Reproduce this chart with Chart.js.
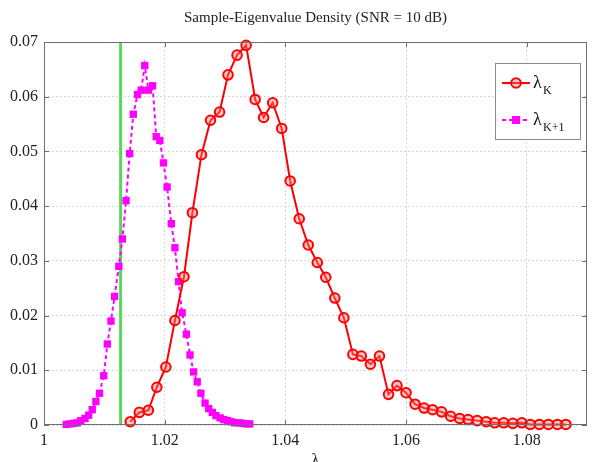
<!DOCTYPE html>
<html>
<head>
<meta charset="utf-8">
<script src="https://cdn.jsdelivr.net/npm/chart.js@4.4.0/dist/chart.umd.min.js"></script>
<style>
html,body{margin:0;padding:0;background:#fff;}
</style>
</head>
<body>
<canvas id="showchart" width="595" height="462"></canvas>
<script>
// lambda_K histogram (red, circles)
var redX = [1.0143,1.0158,1.0173,1.0187,1.0202,1.0217,1.0232,1.0246,1.0261,1.0276,
	1.0291,1.0305,1.0320,1.0335,1.0350,1.0364,1.0379,1.0394,1.0408,1.0423,
	1.0438,1.0453,1.0467,1.0482,1.0497,1.0512,1.0526,1.0541,1.0556,1.0571,
	1.0585,1.0600,1.0615,1.0630,1.0644,1.0659,1.0674,1.0689,1.0703,1.0718,
	1.0733,1.0747,1.0762,1.0777,1.0792,1.0806,1.0821,1.0836,1.0851,1.0865];
var redY = [0.0006,0.0023,0.0027,0.0069,0.0106,0.0191,0.0271,0.0388,0.0494,0.0557,
	0.0572,0.0640,0.0676,0.0694,0.0595,0.0562,0.0589,0.0542,0.0446,0.0377,
	0.0329,0.0297,0.0270,0.0232,0.0196,0.0129,0.0126,0.0111,0.0126,0.0056,
	0.0072,0.0059,0.0038,0.0031,0.0028,0.0024,0.0016,0.0012,0.0010,0.0008,
	0.0006,0.0004,0.0004,0.0003,0.0004,0.0001,0.0001,0.0001,0.0001,0.0001];

// lambda_K+1 histogram (magenta, squares)
var magX = [1.0037,1.0043,1.0049,1.0055,1.0061,1.0068,1.0074,1.0080,1.0086,1.0092,
	1.0099,1.0105,1.0111,1.0117,1.0124,1.0130,1.0136,1.0142,1.0148,1.0155,
	1.0161,1.0167,1.0173,1.0180,1.0186,1.0192,1.0198,1.0204,1.0211,1.0217,
	1.0223,1.0229,1.0236,1.0242,1.0248,1.0254,1.0260,1.0267,1.0273,1.0279,
	1.0285,1.0292,1.0298,1.0304,1.0310,1.0316,1.0323,1.0329,1.0335,1.0341];
var magY = [0.0001,0.0002,0.0003,0.0004,0.0008,0.0012,0.0018,0.0028,0.0043,0.0058,
	0.0090,0.0148,0.0190,0.0235,0.0290,0.0340,0.0410,0.0496,0.0568,0.0604,
	0.0612,0.0657,0.0612,0.0620,0.0527,0.0520,0.0479,0.0435,0.0368,0.0324,
	0.0262,0.0205,0.0166,0.0128,0.0097,0.0079,0.0058,0.0040,0.0030,0.0023,
	0.0017,0.0013,0.0010,0.0008,0.0006,0.0004,0.0004,0.0003,0.0002,0.0002];

var thresholdX = 1.0127;
var xTicks = [1, 1.02, 1.04, 1.06, 1.08];
var yTicks = [0, 0.01, 0.02, 0.03, 0.04, 0.05, 0.06, 0.07];
var titleText = "Sample-Eigenvalue Density (SNR = 10 dB)";

function toPoints(xs, ys){
	var pts = [];
	for (var i in xs) pts.push({x: xs[i], y: ys[i]});
	return pts;
}

var serif = "'Liberation Serif','Times New Roman',serif";

// box, inward ticks and the legend (subscripts)
var matlabLook = {
	id: 'matlabLook',
	afterDraw: function(chart){
		var ctx = chart.ctx, a = chart.chartArea;
		var xs = chart.scales.x, ys = chart.scales.y;
		ctx.save();
		ctx.strokeStyle = '#6e6e6e';
		ctx.lineWidth = 1;
		ctx.strokeRect(a.left + 0.5, a.top + 0.5, a.right - a.left - 1, a.bottom - a.top - 1);
		ctx.beginPath();
		xTicks.forEach(function(v){
			var px = Math.round(xs.getPixelForValue(v)) + 0.5;
			ctx.moveTo(px, a.bottom); ctx.lineTo(px, a.bottom - 5);
			ctx.moveTo(px, a.top); ctx.lineTo(px, a.top + 5);
		});
		yTicks.forEach(function(v){
			var py = Math.round(ys.getPixelForValue(v)) + 0.5;
			ctx.moveTo(a.left, py); ctx.lineTo(a.left + 5, py);
			ctx.moveTo(a.right, py); ctx.lineTo(a.right - 5, py);
		});
		ctx.stroke();

		// legend
		var lx = 495, ly = 63, lw = 85, lh = 76;
		ctx.fillStyle = '#fff';
		ctx.fillRect(lx, ly, lw, lh);
		ctx.strokeStyle = '#8a8a8a';
		ctx.strokeRect(lx + 0.5, ly + 0.5, lw, lh);
		var rows = [
			{y: 83, color: '#ff0000', dash: [], style: 'circle', sub: 'K'},
			{y: 120, color: '#ff00ff', dash: [4, 3], style: 'rect', sub: 'K+1'}
		];
		rows.forEach(function(r){
			ctx.strokeStyle = r.color;
			ctx.lineWidth = 2;
			ctx.setLineDash(r.dash);
			ctx.beginPath();
			ctx.moveTo(502, r.y); ctx.lineTo(530, r.y);
			ctx.stroke();
			ctx.setLineDash([]);
			if (r.style === 'circle') {
				ctx.fillStyle = 'rgba(255,120,120,0.4)';
				ctx.beginPath();
				ctx.arc(516, r.y, 4.8, 0, Math.PI * 2);
				ctx.fill(); ctx.stroke();
			} else {
				ctx.fillStyle = r.color;
				ctx.fillRect(512, r.y - 4, 8, 8);
			}
			ctx.fillStyle = '#111';
			ctx.textBaseline = 'alphabetic';
			ctx.textAlign = 'left';
			ctx.font = '18px ' + serif;
			ctx.fillText('\u03bb', 533, r.y + 5);
			ctx.font = '12px ' + serif;
			ctx.fillText(r.sub, 543, r.y + 11);
		});
		ctx.restore();
	}
};

var ctx = document.getElementById('showchart');
var chart = new Chart(ctx, {
	type: 'scatter',
	data: {
		datasets: [
			{
				label: 'lambdaK',
				data: toPoints(redX, redY),
				showLine: true,
				borderColor: '#ff0000',
				borderWidth: 2,
				pointStyle: 'circle',
				pointRadius: 4.8,
				pointBorderWidth: 2,
				pointBorderColor: '#ff0000',
				pointBackgroundColor: 'rgba(255,120,120,0.4)',
				order: 0,
				clip: 8
			},
			{
				label: 'lambdaK+1',
				data: toPoints(magX, magY),
				showLine: true,
				borderColor: '#ff00ff',
				borderWidth: 2,
				borderDash: [4, 3],
				pointStyle: 'rect',
				pointRadius: 5.2,
				pointBorderWidth: 0,
				pointBackgroundColor: '#ff00ff',
				order: 1,
				clip: 8
			},
			{
				label: 'threshold',
				data: [{x: thresholdX, y: yTicks[0]}, {x: thresholdX, y: yTicks[yTicks.length - 1]}],
				showLine: true,
				borderColor: '#5ad65a',
				borderWidth: 3,
				pointRadius: 0,
				order: 2
			}
		]
	},
	options: {
		responsive: false,
		animation: false,
		devicePixelRatio: 1,
		layout: {padding: {right: 8, left: 0, top: 0, bottom: 0}},
		plugins: {
			legend: {display: false},
			tooltip: {enabled: false},
			title: {
				display: true,
				text: titleText,
				fullSize: false,
				color: '#222',
				font: {family: serif, size: 15, weight: 'normal', lineHeight: 1.2},
				padding: {top: 9, bottom: 15}
			}
		},
		scales: {
			x: {
				type: 'linear',
				min: 1,
				max: 1.09,
				afterFit: function(s){ s.height = 37; },
				afterBuildTicks: function(s){ s.ticks = xTicks.map(function(v){ return {value: v}; }); },
				ticks: {
					color: '#222',
					padding: 6,
					maxRotation: 0,
					font: {family: serif, size: 16},
					callback: function(v){ return v === 1 ? '1' : v.toFixed(2); }
				},
				grid: {color: '#d8d8d8', drawTicks: false},
				border: {display: false, dash: [2, 2]},
				title: {
					display: true,
					text: '\u03bb',
					color: '#222',
					font: {family: serif, size: 16},
					padding: {top: 0, bottom: -8}
				}
			},
			y: {
				type: 'linear',
				min: 0,
				max: 0.07,
				afterFit: function(s){ s.width = 44; },
				afterBuildTicks: function(s){ s.ticks = yTicks.map(function(v){ return {value: v}; }); },
				ticks: {
					color: '#222',
					padding: 6,
					font: {family: serif, size: 16},
					callback: function(v){ return v === 0 ? '0' : v.toFixed(2); }
				},
				grid: {color: '#d8d8d8', drawTicks: false},
				border: {display: false, dash: [2, 2]}
			}
		}
	},
	plugins: [matlabLook]
});
</script>
</body>
</html>
